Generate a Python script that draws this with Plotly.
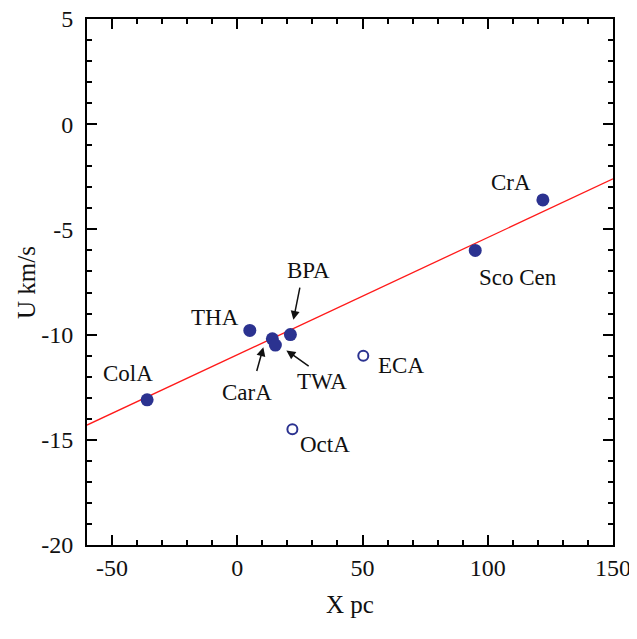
import plotly.graph_objects as go

# Data
filled_names = ["ColA", "THA", "CarA", "TWA", "BPA", "Sco Cen", "CrA"]
filled_x = [-36, 5, 14, 15.2, 21.2, 95, 122]
filled_u = [-13.1, -9.8, -10.2, -10.5, -10.0, -6.0, -3.6]

open_names = ["ECA", "OctA"]
open_x = [50.3, 22]
open_u = [-11.0, -14.5]

fit_x = [-60, 150]
fit_u = [-14.3, -2.6]

x_ticks = [-50, 0, 50, 100, 150]
y_ticks = [-20, -15, -10, -5, 0, 5]

# Label positions (data coords)
labels = {
    "ColA": (-43.5, -11.85),
    "THA": (-8.8, -9.2),
    "CarA": (4.0, -12.75),
    "TWA": (33.9, -12.25),
    "BPA": (28.3, -6.95),
    "ECA": (65.5, -11.45),
    "OctA": (35.1, -15.2),
    "CrA": (109.4, -2.75),
    "Sco Cen": (112.2, -7.3),
}
arrows = [  # (tail_x, tail_u, head_x, head_u)
    (25.1, -7.7, 22.4, -9.3),
    (7.6, -11.8, 10.4, -10.6),
    (29.1, -11.55, 19.6, -10.75),
]

navy = "#2B3290"
font = "Liberation Serif"

fig = go.Figure()
fig.add_trace(go.Scatter(x=fit_x, y=fit_u, mode="lines",
                         line=dict(color="#FF1A1A", width=1.3), hoverinfo="skip"))
fig.add_trace(go.Scatter(x=filled_x, y=filled_u, mode="markers", text=filled_names,
                         marker=dict(size=13, color=navy)))
fig.add_trace(go.Scatter(x=open_x, y=open_u, mode="markers", text=open_names,
                         marker=dict(size=10, color="white", line=dict(color=navy, width=2))))

for name, (lx, ly) in labels.items():
    fig.add_annotation(x=lx, y=ly, xref="x", yref="y", text=name, showarrow=False,
                       font=dict(family=font, size=23, color="#111"))
for tx, tu, hx, hu in arrows:
    fig.add_annotation(x=hx, y=hu, ax=tx, ay=tu, xref="x", yref="y", axref="x", ayref="y",
                       text="", showarrow=True, arrowhead=2, arrowsize=1.2, arrowwidth=1.5,
                       arrowcolor="#111")

# Axis titles
fig.add_annotation(x=0.5, y=-0.114, xref="paper", yref="paper", yanchor="middle",
                   text="X pc", showarrow=False, font=dict(family=font, size=25, color="#111"))
fig.add_annotation(x=-0.116, y=0.5, xref="paper", yref="paper", xanchor="center",
                   text="U km/s", textangle=-90, showarrow=False,
                   font=dict(family=font, size=25, color="#111"))

axis_common = dict(showgrid=False, zeroline=False, showline=True, linecolor="black",
                   linewidth=2, mirror="ticks", ticks="inside", ticklen=10, tickwidth=2,
                   tickcolor="black", automargin=False, ticklabeloverflow="allow",
                   tickfont=dict(family=font, size=24, color="#111"))

fig.update_xaxes(range=[-60, 150], tickvals=x_ticks, ticktext=[str(v) for v in x_ticks],
                 minor=dict(ticks="inside", ticklen=5, tickwidth=2, tickcolor="black", dtick=10,
                            tick0=0),
                 **axis_common)
fig.update_yaxes(range=[-20, 5], tickvals=y_ticks, ticktext=[str(v) for v in y_ticks],
                 minor=dict(ticks="inside", ticklen=5, tickwidth=2, tickcolor="black", dtick=1,
                            tick0=0),
                 ticklabelstandoff=7,
                 **axis_common)

fig.update_layout(width=637, height=639, margin=dict(l=79, r=32, t=11, b=102),
                  plot_bgcolor="white", paper_bgcolor="white", showlegend=False)

fig.write_html("out.html")
